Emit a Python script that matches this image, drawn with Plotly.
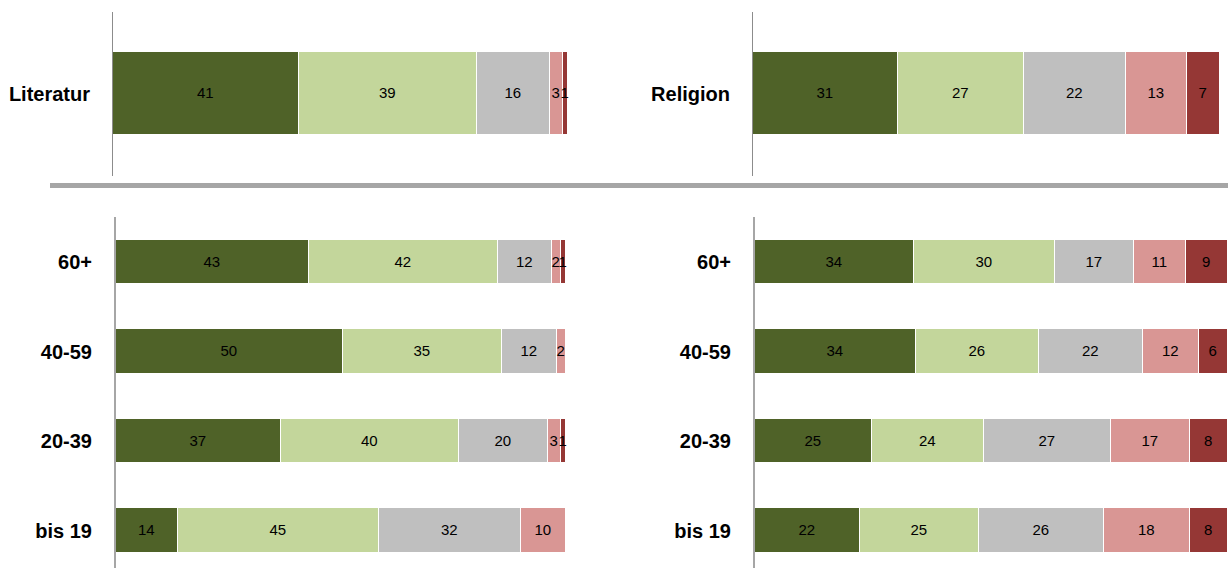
import plotly.graph_objects as go

W, H = 1228, 568

colors = ["#4f6228", "#c3d69b", "#bfbfbf", "#d99694", "#953735"]

top_left_cat = ["Literatur"]
top_left_vals = [[41], [39], [16], [3], [1]]

top_right_cat = ["Religion"]
top_right_vals = [[31], [27], [22], [13], [7]]

age_cats = ["bis 19", "20-39", "40-59", "60+"]
# series values per segment, order: bis 19, 20-39, 40-59, 60+
bot_left_vals = [
    [14, 37, 50, 43],
    [45, 40, 35, 42],
    [32, 20, 12, 12],
    [10, 3, 2, 2],
    [0, 1, 0, 1],
]
bot_right_vals = [
    [22, 25, 34, 34],
    [25, 24, 26, 30],
    [26, 27, 22, 17],
    [18, 17, 12, 11],
    [8, 8, 6, 9],
]

fig = go.Figure()

def px_x(a, b):
    return [a / W, b / W]

def px_y(top, bottom):
    return [1 - bottom / H, 1 - top / H]

panels = [
    ("", top_left_cat, top_left_vals, (113, 568), (12, 176)),
    ("2", top_right_cat, top_right_vals, (753, 1220), (12, 176)),
    ("3", age_cats, bot_left_vals, (116, 566), (217, 568)),
    ("4", age_cats, bot_right_vals, (755, 1228), (217, 568)),
]

for pid, cats, vals, xd, yd in panels:
    n = len(cats)
    ypos = list(range(n))
    for i, series in enumerate(vals):
        fig.add_trace(go.Bar(
            orientation="h",
            y=ypos,
            x=series,
            width=0.5 if n > 1 else 1.0,
            marker=dict(color=colors[i], line=dict(color="white", width=1.5)),
            text=[str(v) if v else "" for v in series],
            textposition="inside",
            insidetextanchor="middle",
            textangle=0,
            constraintext="none",
            cliponaxis=False,
            textfont=dict(family="Liberation Sans, Arial, sans-serif", size=15, color="black"),
            xaxis="x" + pid,
            yaxis="y" + pid,
            showlegend=False,
            hoverinfo="skip",
        ))

layout = dict(
    width=W, height=H,
    margin=dict(l=0, r=0, t=0, b=0),
    paper_bgcolor="white", plot_bgcolor="white",
    barmode="stack",
    barnorm="percent",
    bargap=0,
)

top_unit = 83.0
top_range = [-(176 - 93.5) / top_unit, (93.5 - 12) / top_unit]
bu = 89.5
bot_range = [-(568 - 530.5) / bu, 3 + (262 - 217) / bu]

for pid, cats, vals, xd, yd in panels:
    xa = "xaxis" + pid
    ya = "yaxis" + pid
    is_top = yd[0] == 12
    layout[xa] = dict(domain=px_x(*xd), range=[0, 100.05], visible=False, fixedrange=True,
                      anchor="y" + pid)
    layout[ya] = dict(
        domain=px_y(*yd),
        range=top_range if is_top else bot_range,
        anchor="x" + pid,
        tickvals=list(range(len(cats))),
        ticktext=cats,
        ticks="",
        showgrid=False, zeroline=False,
        showline=True,
        linecolor="#8c8c8c" if is_top else "#a6a6a6",
        linewidth=1 if is_top else 2,
        ticklabelstandoff=18,
        tickfont=dict(family="Liberation Sans, Arial, sans-serif", size=20, color="black", weight="bold"),
        fixedrange=True,
    )

layout["shapes"] = [dict(
    type="line", xref="paper", yref="paper",
    x0=50 / W, x1=1.0, y0=1 - 185.5 / H, y1=1 - 185.5 / H,
    line=dict(color="#a6a6a6", width=5),
)]

fig.update_layout(**layout)
fig.write_html("out.html", config={"displayModeBar": False},
               post_script="document.body.style.margin='0';document.body.style.overflow='hidden';")
